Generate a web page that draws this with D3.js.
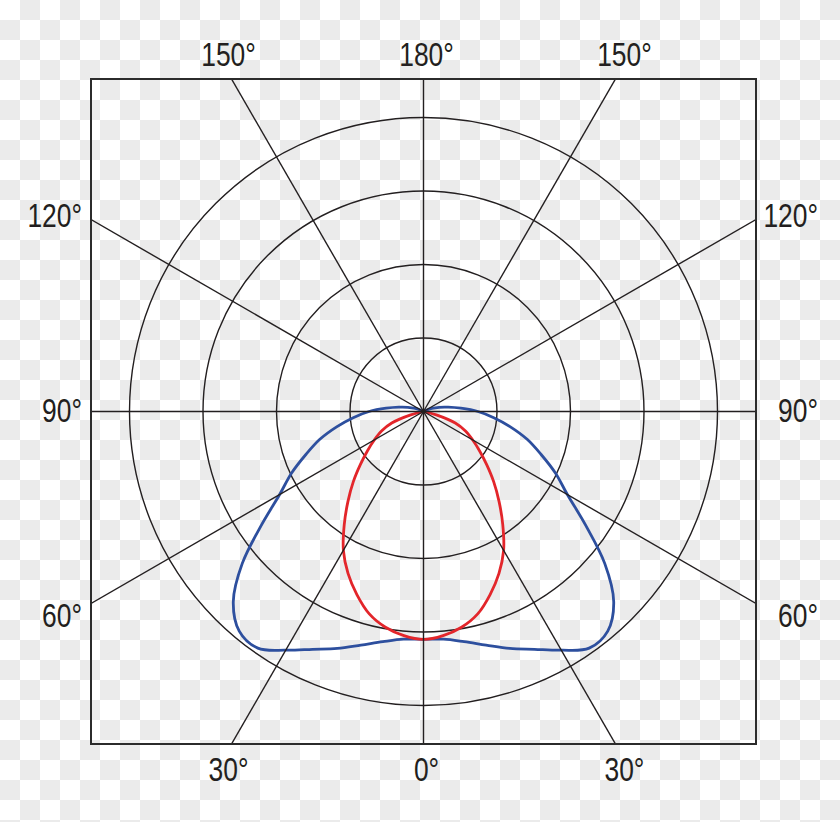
<!DOCTYPE html>
<html>
<head>
<meta charset="utf-8">
<script src="https://cdn.jsdelivr.net/npm/d3@7"></script>
<style>
  html, body { margin: 0; padding: 0; background: #fff; }
  svg { display: block; }
</style>
</head>
<body>
<div id="chart"></div>
<script>
// polar angles, degrees from nadir (0 = straight down)
const angleDeg = [0, 5, 10, 15, 20, 25, 30, 35, 40, 45, 50, 55, 60, 65,
                  70, 75, 80, 85, 90, 95, 100, 105, 110, 115, 120];
// intensity, blue curve (wide distribution)
const blueCd = [310, 311, 318, 329, 343, 357, 375, 393, 390, 366, 322, 269, 226, 198,
                170, 146, 120, 96, 74, 51, 34, 22, 12, 4, 0];
// intensity, red curve (narrow distribution)
const redCd = [310, 306, 298, 285, 265, 243, 218, 188, 160, 135, 112, 93, 77, 63,
               46, 18, 0, 0, 0, 0, 0, 0, 0, 0, 0];
const ringValues = [100, 200, 300, 400];
const spokeAngles = [0, 30, 60, 90, 120, 150, 180, 210, 240, 270, 300, 330];
const labelAngles = [0, 30, 60, 90, 120, 150, 180];

const width = 840, height = 822;
const cx = 423.5, cy = 411.5, half = 332.5;

const svg = d3.select("#chart").append("svg")
    .attr("width", width)
    .attr("height", height);

// transparent-png style checker background
const defs = svg.append("defs");
const pat = defs.append("pattern")
    .attr("id", "checker")
    .attr("width", 40).attr("height", 40)
    .attr("patternUnits", "userSpaceOnUse");
pat.append("rect").attr("width", 40).attr("height", 40).attr("fill", "#ffffff");
pat.append("rect").attr("x", 20).attr("y", 0).attr("width", 20).attr("height", 20).attr("fill", "#ebebeb");
pat.append("rect").attr("x", 0).attr("y", 20).attr("width", 20).attr("height", 20).attr("fill", "#ebebeb");
svg.append("rect").attr("width", width).attr("height", height).attr("fill", "url(#checker)");

defs.append("clipPath").attr("id", "frameClip")
  .append("rect")
    .attr("x", cx - half).attr("y", cy - half)
    .attr("width", 2 * half).attr("height", 2 * half);

const r = d3.scaleLinear().domain([0, 400]).range([0, 294]);

const g = svg.append("g").attr("transform", "translate(" + cx + "," + cy + ")");

// spokes, clipped by the frame
const spokes = svg.append("g")
    .attr("clip-path", "url(#frameClip)")
  .append("g")
    .attr("transform", "translate(" + cx + "," + cy + ")");
spokes.selectAll("line")
  .data(spokeAngles)
  .enter().append("line")
    .attr("x1", 0).attr("y1", 0)
    .attr("x2", d => 600 * Math.sin(d * Math.PI / 180))
    .attr("y2", d => 600 * Math.cos(d * Math.PI / 180))
    .attr("stroke", "#231f20")
    .attr("stroke-width", 1.4);

g.selectAll("circle.ring")
  .data(ringValues)
  .enter().append("circle")
    .attr("class", "ring")
    .attr("r", d => r(d))
    .attr("fill", "none")
    .attr("stroke", "#231f20")
    .attr("stroke-width", 1.4);

svg.append("rect")
    .attr("x", cx - half).attr("y", cy - half)
    .attr("width", 2 * half).attr("height", 2 * half)
    .attr("fill", "none")
    .attr("stroke", "#2b2b2b")
    .attr("stroke-width", 2);

// build symmetric closed curve from one half
function curvePoints(values) {
    let end = values.indexOf(0);
    if (end < 0) end = values.length - 1;
    const half = [];
    for (let i = 0; i <= end; i++) half.push({a: angleDeg[i], v: values[i]});
    const left = half.slice(1).reverse().map(d => ({a: -d.a, v: d.v}));
    return left.concat(half);
}

const line = d3.lineRadial()
    .angle(d => Math.PI - d.a * Math.PI / 180)
    .radius(d => r(d.v))
    .curve(d3.curveCatmullRom.alpha(0.5));

g.append("path")
    .datum(curvePoints(blueCd))
    .attr("d", line)
    .attr("fill", "none")
    .attr("stroke", "#2d4f9e")
    .attr("stroke-width", 2.8);

g.append("path")
    .datum(curvePoints(redCd))
    .attr("d", line)
    .attr("fill", "none")
    .attr("stroke", "#e3262b")
    .attr("stroke-width", 2.8);

// angle labels
const sideNudge = {60: 23.5, 90: 10, 120: 7.5};
const labels = [];
labelAngles.forEach(a => {
    const sides = (a === 0 || a === 180) ? [1] : [-1, 1];
    sides.forEach(s => {
        const t = a * Math.PI / 180;
        const dx = s * Math.sin(t), dy = Math.cos(t);
        const k = half / Math.max(Math.abs(dx), Math.abs(dy));
        const ix = cx + dx * k, iy = cy + dy * k;
        let x, y, anchor;
        if (Math.abs(dy) >= Math.abs(dx) - 1e-9 && a !== 90) {
            anchor = "middle";
            const sgn = (a === 0 || a === 180) ? 0 : s;
            x = ix + 3 + 6 * sgn;
            y = dy > 0 ? cy + half + 37 : cy - half - 13;
        } else {
            anchor = "end";
            x = s < 0 ? cx - half - 9 : cx + half + 62;
            y = iy + sideNudge[a];
        }
        labels.push({text: a + "°", x: x, y: y, anchor: anchor});
    });
});

svg.selectAll("text.lab")
  .data(labels)
  .enter().append("text")
    .attr("class", "lab")
    .attr("transform", d => "translate(" + d.x + "," + d.y + ") scale(0.8,1)")
    .attr("text-anchor", d => d.anchor)
    .attr("font-family", "'Liberation Sans', Arial, sans-serif")
    .attr("font-size", 33)
    .attr("fill", "#231f20")
    .text(d => d.text);
</script>
</body>
</html>
